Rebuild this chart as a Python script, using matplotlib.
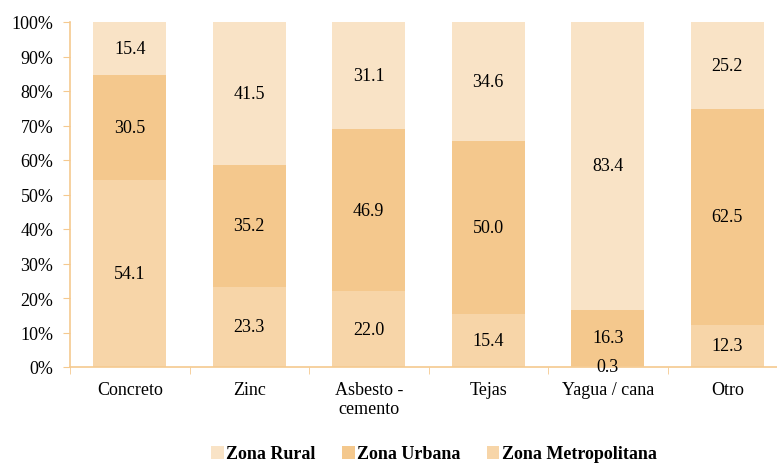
import matplotlib.pyplot as plt
import numpy as np

plt.rcParams['font.family'] = ['Liberation Serif', 'DejaVu Serif']

categorias = ["Concreto", "Zinc", "Asbesto -\ncemento", "Tejas", "Yagua / cana", "Otro"]
metropolitana = [54.1, 23.3, 22.0, 15.4, 0.3, 12.3]
urbana = [30.5, 35.2, 46.9, 50.0, 16.3, 62.5]
rural = [15.4, 41.5, 31.1, 34.6, 83.4, 25.2]

c_rural = "#F9E3C6"
c_urbana = "#F4C88D"
c_metro = "#F7D5A8"
c_eje = "#F5C98F"

if __name__ == '__main__':
    fig = plt.figure(figsize=(7.77, 4.64), dpi=100)
    ax = fig.add_axes([70 / 777, 1 - 368 / 464, 717 / 777, 345 / 464])

    x = np.arange(len(categorias))
    w = 0.61
    met = np.array(metropolitana)
    urb = np.array(urbana)
    rur = np.array(rural)

    b1 = ax.bar(x, met, w, color=c_metro, label="Zona Metropolitana")
    b2 = ax.bar(x, urb, w, bottom=met, color=c_urbana, label="Zona Urbana")
    b3 = ax.bar(x, rur, w, bottom=met + urb, color=c_rural, label="Zona Rural")

    fs = 13
    for i in range(len(x)):
        ax.text(x[i], met[i] / 2, f"{met[i]:.1f}", ha='center', va='center', fontsize=fs)
        ax.text(x[i], met[i] + urb[i] / 2, f"{urb[i]:.1f}", ha='center', va='center', fontsize=fs)
        ax.text(x[i], met[i] + urb[i] + rur[i] / 2, f"{rur[i]:.1f}", ha='center', va='center', fontsize=fs)

    ax.set_xlim(-0.5, len(x) - 0.5)
    ax.set_ylim(0, 100)
    ax.set_yticks(np.arange(0, 101, 10))
    ax.set_yticklabels([f"{v}%" for v in range(0, 101, 10)], fontsize=fs)
    ax.set_xticks(x)
    ax.set_xticklabels(categorias, fontsize=fs)
    ax.tick_params(axis='x', length=0, pad=10)
    ax.set_xticks(np.arange(-0.5, len(x), 1), minor=True)
    ax.tick_params(axis='x', which='minor', length=5, color=c_eje)
    ax.tick_params(axis='y', length=5, color=c_eje, pad=7)

    for s in ['top', 'right']:
        ax.spines[s].set_visible(False)
    for s in ['left', 'bottom']:
        ax.spines[s].set_color(c_eje)
        ax.spines[s].set_linewidth(1.2)

    leg = fig.legend([b3, b2, b1], ["Zona Rural", "Zona Urbana", "Zona Metropolitana"],
                     loc='center', bbox_to_anchor=(434 / 777, 1 - 455 / 464), ncol=3,
                     frameon=False, prop={'weight': 'bold', 'size': fs},
                     handlelength=0.7, handleheight=0.7, handletextpad=0.15, columnspacing=1.45)

    fig.savefig("out.png", dpi=100)
